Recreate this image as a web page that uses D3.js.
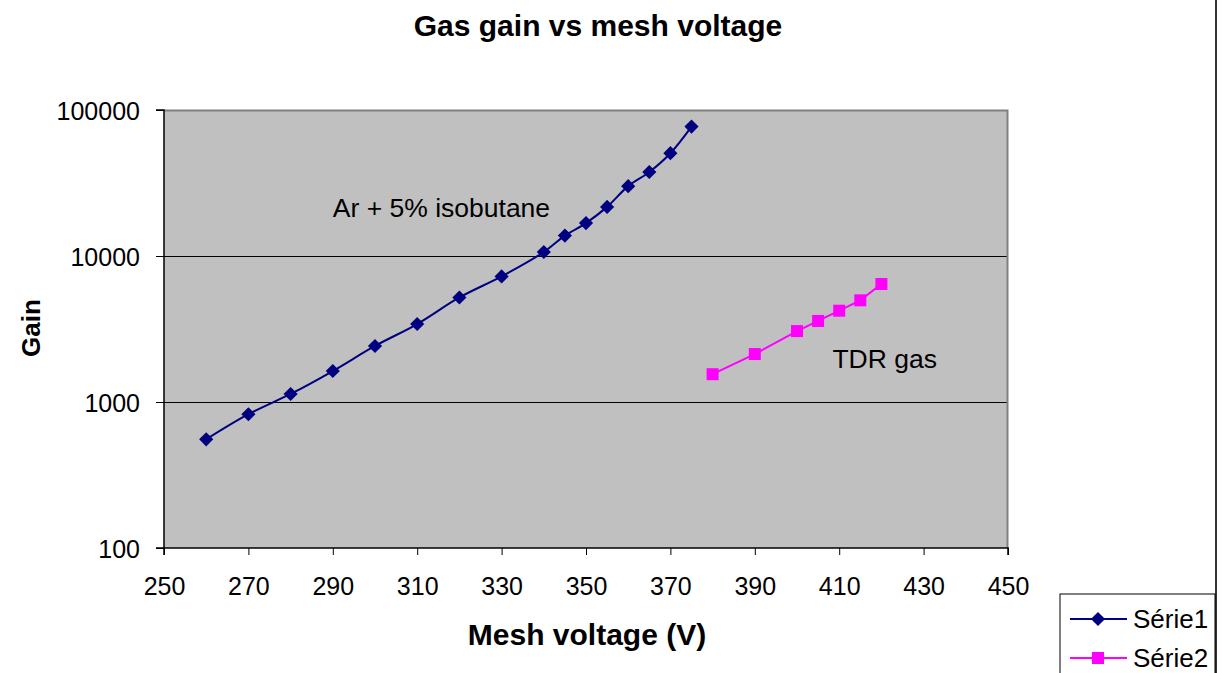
<!DOCTYPE html>
<html>
<head>
<meta charset="utf-8">
<script src="https://cdn.jsdelivr.net/npm/d3@7"></script>
<style>
  body { margin: 0; background: #fff; }
  text { font-family: "Liberation Sans", Arial, sans-serif; fill: #000; }
</style>
</head>
<body>
<div class="canvas"></div>
<script>
// data
const voltage1 = [260, 270, 280, 290, 300, 310, 320, 330, 340, 345, 350, 355, 360, 365, 370, 375];
const gain1 = [555, 825, 1135, 1630, 2420, 3420, 5200, 7250, 10650, 13800, 16800, 21700, 30100, 37600, 50600, 77000];
const voltage2 = [380, 390, 400, 405, 410, 415, 420];
const gain2 = [1550, 2130, 3060, 3590, 4220, 4970, 6430];
const xTicks = [250, 270, 290, 310, 330, 350, 370, 390, 410, 430, 450];
const yTicks = [100, 1000, 10000, 100000];
const seriesNames = ["Série1", "Série2"];

const width = 1229;
const height = 673;
const margin = { top: 110, right: 221, bottom: 125, left: 164 };
const graphWidth = width - margin.left - margin.right;
const graphHeight = height - margin.top - margin.bottom;

const svg = d3
  .select(".canvas")
  .append("svg")
  .attr("width", width)
  .attr("height", height);

// chart area border on the right
svg.append("line")
  .attr("x1", 1216).attr("x2", 1216)
  .attr("y1", 0).attr("y2", height)
  .attr("stroke", "#333")
  .attr("stroke-width", 2);

const graph = svg
  .append("g")
  .attr("transform", `translate(${margin.left}, ${margin.top})`);

// scales
const x = d3.scaleLinear().domain([250, 450]).range([0, graphWidth]);
const y = d3.scaleLog().domain([100, 100000]).range([graphHeight, 0]);

// plot background
graph.append("rect")
  .attr("width", graphWidth)
  .attr("height", graphHeight)
  .attr("fill", "#c0c0c0");

// gridlines
graph.selectAll(".grid")
  .data(yTicks.slice(1, -1))
  .enter()
  .append("line")
  .attr("class", "grid")
  .attr("x1", 0).attr("x2", graphWidth)
  .attr("y1", d => y(d) + 0.5).attr("y2", d => y(d) + 0.5)
  .attr("stroke", "#000")
  .attr("stroke-width", 1.2);

// gray border top/right
graph.append("path")
  .attr("d", `M0,0.5H${graphWidth - 0.5}V${graphHeight}`)
  .attr("fill", "none")
  .attr("stroke", "#808080")
  .attr("stroke-width", 2);

// axes
const xAxis = d3.axisBottom(x).tickValues(xTicks).tickSize(7).tickPadding(22);
const yAxis = d3.axisLeft(y).tickValues(yTicks).tickSize(8).tickPadding(16)
  .tickFormat(d3.format("d"));

const xAxisGroup = graph.append("g")
  .attr("transform", `translate(0, ${graphHeight})`)
  .call(xAxis);
const yAxisGroup = graph.append("g").call(yAxis);

[xAxisGroup, yAxisGroup].forEach(g => {
  g.select(".domain").attr("stroke", "#000").attr("stroke-width", 1.5);
  g.selectAll(".tick line").attr("stroke", "#000");
  g.selectAll(".tick text")
    .style("font-size", "25px")
    .style("font-family", "'Liberation Sans', Arial, sans-serif")
    .attr("fill", "#000");
});
xAxisGroup.select(".domain").attr("d", `M0,7V0H${graphWidth}V7`);
yAxisGroup.select(".domain").attr("d", `M-8,${graphHeight}H0V0H-8`);
yAxisGroup.selectAll(".tick text").attr("dy", "0.36em");

// line generators
const line1 = d3.line()
  .x(d => x(d[0]))
  .y(d => y(d[1]))
  .curve(d3.curveCatmullRom.alpha(0.5));
const line2 = d3.line()
  .x(d => x(d[0]))
  .y(d => y(d[1]));

const pts1 = voltage1.map((v, i) => [v, gain1[i]]);
const pts2 = voltage2.map((v, i) => [v, gain2[i]]);

const navy = "#000080";
const magenta = "#ff00ff";

graph.append("path")
  .datum(pts1)
  .attr("fill", "none")
  .attr("stroke", navy)
  .attr("stroke-width", 2)
  .attr("d", line1);

graph.append("path")
  .datum(pts2)
  .attr("fill", "none")
  .attr("stroke", magenta)
  .attr("stroke-width", 2)
  .attr("d", line2);

const diamond = d3.symbol().type(d3.symbolSquare).size(100);

graph.selectAll(".pt1")
  .data(pts1)
  .enter()
  .append("path")
  .attr("class", "pt1")
  .attr("d", diamond)
  .attr("transform", d => `translate(${x(d[0])}, ${y(d[1])}) rotate(45)`)
  .attr("fill", navy);

graph.selectAll(".pt2")
  .data(pts2)
  .enter()
  .append("rect")
  .attr("class", "pt2")
  .attr("x", d => x(d[0]) - 6)
  .attr("y", d => y(d[1]) - 6)
  .attr("width", 12)
  .attr("height", 12)
  .attr("fill", magenta);

// annotations
graph.append("text")
  .attr("x", x(290))
  .attr("y", y(18500))
  .style("font-size", "26.5px")
  .text("Ar + 5% isobutane");

graph.append("text")
  .attr("x", x(408.4))
  .attr("y", y(1700))
  .style("font-size", "26.5px")
  .text("TDR gas");

// titles
svg.append("text")
  .attr("x", 598)
  .attr("y", 36)
  .attr("text-anchor", "middle")
  .style("font-size", "30px")
  .style("font-weight", "bold")
  .text("Gas gain vs mesh voltage");

svg.append("text")
  .attr("x", 587)
  .attr("y", 645)
  .attr("text-anchor", "middle")
  .style("font-size", "30px")
  .style("font-weight", "bold")
  .text("Mesh voltage (V)");

svg.append("text")
  .attr("transform", `translate(40, ${margin.top + graphHeight / 2 - 1}) rotate(-90)`)
  .attr("text-anchor", "middle")
  .style("font-size", "26px")
  .style("font-weight", "bold")
  .text("Gain");

// legend
const legend = svg.append("g").attr("transform", "translate(1060, 594)");
legend.append("rect")
  .attr("width", 155)
  .attr("height", 90)
  .attr("fill", "#fff")
  .attr("stroke", "#000")
  .attr("stroke-width", 1);

const legendColors = [navy, magenta];
seriesNames.forEach((name, i) => {
  const ly = 25 + i * 39;
  legend.append("line")
    .attr("x1", 10).attr("x2", 67)
    .attr("y1", ly).attr("y2", ly)
    .attr("stroke", legendColors[i])
    .attr("stroke-width", 2);
  if (i === 0) {
    legend.append("path")
      .attr("d", diamond)
      .attr("transform", `translate(38, ${ly}) rotate(45)`)
      .attr("fill", navy);
  } else {
    legend.append("rect")
      .attr("x", 32).attr("y", ly - 6)
      .attr("width", 12).attr("height", 12)
      .attr("fill", magenta);
  }
  legend.append("text")
    .attr("x", 73)
    .attr("y", ly + 9)
    .style("font-size", "26px")
    .text(name);
});
</script>
</body>
</html>
